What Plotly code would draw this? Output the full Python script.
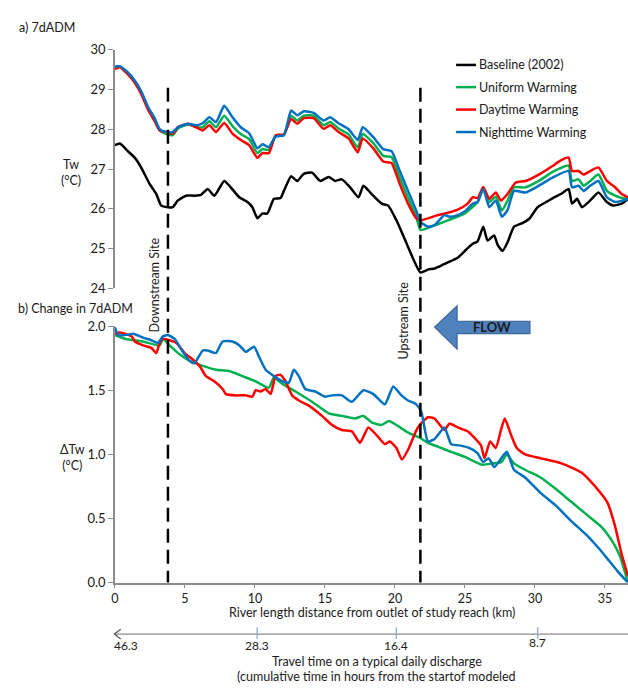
import plotly.graph_objects as go

# ---------------- data ----------------
# a) 7dADM (Tw, °C) vs river km
base_km = [0, 0.36, 0.95, 1.43, 1.89, 2.49, 2.96, 3.31, 3.79, 4.14, 4.50, 5.09, 5.68, 6.15, 6.63, 7.10,
           7.81, 8.28, 8.88, 9.47, 9.82, 10.18, 10.53, 10.89, 11.36, 11.83, 12.07, 12.59, 13.02, 13.49,
           14.08, 14.67, 15.27, 15.73, 16.21, 16.80, 17.40, 17.75, 18.34, 19.05, 19.52, 20.11, 20.82,
           21.82, 22.36, 22.83, 23.30, 23.78, 24.49, 25.08, 25.56, 25.91, 26.31, 26.62, 27.09, 27.33,
           27.69, 28.04, 28.51, 29.10, 29.60, 30.20, 31.20, 31.94, 32.41, 32.65, 33.01, 33.36, 33.95,
           34.54, 35.14, 35.60, 36.20, 36.65]
base_tw = [27.60, 27.64, 27.44, 27.28, 27.03, 26.62, 26.37, 26.08, 26.04, 26.04, 26.21, 26.33, 26.33,
           26.35, 26.50, 26.33, 26.70, 26.54, 26.29, 26.17, 26.04, 25.76, 25.88, 25.88, 26.25, 26.27,
           26.45, 26.82, 26.70, 26.88, 26.91, 26.70, 26.80, 26.70, 26.74, 26.54, 26.29, 26.58, 26.37,
           26.13, 26.08, 25.71, 25.14, 24.40, 24.47, 24.50, 24.57, 24.65, 24.77, 24.97, 25.12, 25.18,
           25.55, 25.20, 25.33, 25.10, 24.94, 25.15, 25.55, 25.64, 25.75, 26.04, 26.25, 26.39, 26.50,
           26.13, 26.25, 26.04, 26.21, 26.41, 26.17, 26.08, 26.13, 26.25]

day_km = [0, 0.36, 0.95, 1.43, 1.89, 2.37, 2.85, 3.20, 3.67, 4.14, 4.50, 5.21, 5.80, 6.27, 6.75, 7.22,
          7.81, 8.40, 8.99, 9.59, 10.18, 10.53, 11.00, 11.48, 12.07, 12.59, 13.02, 13.49, 14.20, 14.91,
          15.38, 15.98, 16.69, 17.35, 17.70, 18.46, 19.17, 19.76, 20.35, 20.94, 21.53, 21.82, 22.36,
          23.07, 23.78, 24.49, 25.20, 25.56, 25.91, 26.31, 26.74, 27.21, 27.57, 28.04, 28.63, 29.34,
          30.28, 31.23, 31.82, 32.41, 32.65, 33.12, 33.48, 33.95, 34.54, 35.14, 35.73, 36.20, 36.65]
day_tw = [29.51, 29.56, 29.37, 29.16, 28.88, 28.49, 28.20, 27.97, 27.93, 27.89, 28.05, 28.14, 28.05,
          27.97, 28.10, 27.93, 28.16, 27.89, 27.73, 27.60, 27.28, 27.40, 27.40, 27.85, 27.87, 28.26,
          28.14, 28.28, 28.28, 28.01, 28.10, 27.93, 27.77, 27.42, 27.77, 27.52, 27.19, 27.15, 26.62,
          26.13, 25.76, 25.71, 25.76, 25.84, 25.90, 25.98, 26.13, 26.29, 26.27, 26.55, 26.25, 26.41,
          26.21, 26.37, 26.66, 26.70, 26.86, 27.07, 27.21, 27.29, 26.95, 26.95, 26.86, 26.95, 27.04,
          26.70, 26.54, 26.37, 26.29]

uni_km = [0, 0.36, 0.95, 1.43, 1.89, 2.37, 2.85, 3.20, 3.67, 4.14, 4.50, 5.21, 5.80, 6.27, 6.75, 7.22,
          7.81, 8.40, 8.99, 9.59, 10.18, 10.53, 11.00, 11.48, 12.07, 12.59, 13.02, 13.49, 14.20, 14.91,
          15.38, 15.98, 16.69, 17.35, 17.70, 18.46, 19.17, 19.76, 20.35, 20.94, 21.53, 21.82, 22.60,
          23.78, 24.96, 25.56, 25.91, 26.31, 26.74, 27.21, 27.64, 28.04, 28.51, 29.34, 30.28, 31.23,
          31.82, 32.41, 32.65, 33.12, 33.48, 33.95, 34.54, 35.14, 35.73, 36.20, 36.65]
uni_tw = [29.55, 29.58, 29.40, 29.19, 28.92, 28.53, 28.24, 27.97, 27.88, 27.85, 28.02, 28.12, 28.06,
          28.05, 28.20, 28.05, 28.34, 28.08, 27.88, 27.75, 27.40, 27.50, 27.48, 27.82, 27.85, 28.34,
          28.22, 28.34, 28.34, 28.10, 28.18, 28.02, 27.87, 27.54, 27.88, 27.65, 27.33, 27.30, 26.78,
          26.28, 25.80, 25.47, 25.55, 25.71, 25.88, 26.05, 26.17, 26.50, 26.17, 26.30, 25.96, 26.20,
          26.54, 26.54, 26.70, 26.92, 27.02, 27.09, 26.70, 26.74, 26.58, 26.70, 26.86, 26.45, 26.33,
          26.27, 26.25]

night_km = [0, 0.36, 0.95, 1.43, 1.89, 2.37, 2.85, 3.20, 3.67, 4.14, 4.50, 5.21, 5.80, 6.27, 6.75, 7.22,
            7.81, 8.40, 8.99, 9.59, 10.18, 10.53, 11.00, 11.48, 12.07, 12.59, 13.02, 13.49, 14.20, 14.91,
            15.38, 15.98, 16.69, 17.35, 17.70, 18.46, 19.17, 19.76, 20.35, 20.94, 21.53, 21.82, 22.36,
            22.83, 23.54, 23.90, 24.49, 25.08, 25.56, 25.91, 26.31, 26.74, 27.21, 27.64, 28.04, 28.51,
            29.34, 30.28, 31.23, 32.41, 32.65, 33.12, 33.48, 33.95, 34.54, 35.14, 35.73, 36.20, 36.65]
night_tw = [29.58, 29.58, 29.42, 29.22, 28.95, 28.56, 28.27, 28.00, 27.93, 27.93, 28.05, 28.14, 28.10,
            28.15, 28.30, 28.18, 28.59, 28.30, 28.05, 27.90, 27.52, 27.62, 27.55, 27.82, 27.85, 28.47,
            28.35, 28.45, 28.41, 28.22, 28.30, 28.15, 28.00, 27.73, 28.05, 27.80, 27.50, 27.45, 26.95,
            26.45, 25.95, 25.67, 25.55, 25.59, 25.84, 25.80, 25.84, 25.96, 26.13, 26.17, 26.50, 26.04,
            26.21, 25.80, 25.96, 26.45, 26.41, 26.58, 26.78, 26.95, 26.54, 26.58, 26.45, 26.58, 26.70,
            26.29, 26.17, 26.20, 26.25]

# b) Change in 7dADM (ΔTw, °C)
d_night_km = [0, 0.24, 0.75, 1.30, 2.01, 2.60, 3.08, 3.43, 3.79, 4.27, 4.85, 5.33, 5.68, 6.27, 6.63, 7.22,
              7.69, 8.40, 8.88, 9.35, 9.94, 10.30, 10.77, 11.36, 11.95, 12.43, 12.78, 13.14, 13.60, 14.31,
              15.02, 15.50, 16.21, 16.92, 17.75, 18.46, 19.28, 19.88, 20.47, 20.94, 21.53, 21.89, 22.36,
              22.83, 23.54, 24.02, 24.61, 25.30, 25.90, 26.30, 26.70, 27.10, 27.60, 28.00, 28.50, 29.30,
              30.40, 31.50, 32.60, 33.70, 34.70, 35.30, 35.90, 36.65]
d_night = [1.99, 1.93, 1.93, 1.94, 1.91, 1.89, 1.87, 1.92, 1.93, 1.90, 1.80, 1.73, 1.71, 1.81, 1.81, 1.79,
           1.88, 1.88, 1.85, 1.80, 1.84, 1.76, 1.66, 1.61, 1.57, 1.56, 1.66, 1.61, 1.51, 1.49, 1.45, 1.46,
           1.46, 1.41, 1.50, 1.47, 1.39, 1.53, 1.46, 1.42, 1.39, 1.33, 1.10, 1.12, 1.21, 1.08, 1.07, 1.05,
           1.01, 0.94, 0.97, 0.90, 0.97, 1.02, 0.88, 0.82, 0.70, 0.60, 0.48, 0.37, 0.25, 0.17, 0.09, 0.00]

d_uni_km = [0, 0.75, 2.01, 3.20, 3.43, 3.91, 4.62, 5.33, 6.27, 7.22, 8.17, 9.11, 10.06, 11.00, 11.36,
            11.95, 12.90, 14.08, 15.27, 16.21, 17.16, 17.75, 18.34, 19.05, 19.57, 20.23, 20.94, 21.78,
            22.36, 23.07, 24.00, 25.00, 26.20, 27.00, 27.60, 28.00, 28.50, 29.30, 30.40, 31.50, 32.60,
            33.70, 34.70, 35.30, 35.70, 36.10, 36.65]
d_uni = [1.93, 1.90, 1.88, 1.85, 1.90, 1.85, 1.78, 1.73, 1.69, 1.66, 1.65, 1.61, 1.57, 1.52, 1.60, 1.55,
         1.49, 1.41, 1.32, 1.30, 1.28, 1.30, 1.25, 1.23, 1.26, 1.22, 1.17, 1.13, 1.09, 1.06, 1.02, 0.98,
         0.92, 0.93, 0.94, 1.00, 0.93, 0.88, 0.82, 0.73, 0.63, 0.53, 0.44, 0.36, 0.29, 0.20, 0.00]

d_day_km = [0, 0.36, 1.20, 1.43, 2.01, 2.60, 2.96, 3.20, 3.43, 3.91, 4.38, 4.98, 5.56, 6.04, 6.51, 7.10,
            7.69, 7.93, 8.64, 9.35, 9.82, 10.06, 10.40, 10.77, 11.12, 11.48, 11.83, 12.19, 12.66, 13.14,
            13.85, 14.79, 15.50, 16.21, 16.92, 17.51, 18.10, 18.69, 19.28, 19.64, 20.11, 20.50, 21.00,
            21.50, 21.78, 22.36, 22.83, 23.54, 23.90, 24.49, 25.20, 25.67, 26.15, 26.40, 26.80, 27.20,
            27.60, 27.85, 28.30, 28.70, 29.30, 30.40, 31.90, 33.30, 34.30, 35.20, 35.70, 36.20, 36.65]
d_day = [1.94, 1.95, 1.92, 1.88, 1.85, 1.83, 1.79, 1.87, 1.90, 1.89, 1.87, 1.79, 1.74, 1.69, 1.61, 1.57,
         1.51, 1.47, 1.46, 1.46, 1.45, 1.50, 1.49, 1.51, 1.47, 1.61, 1.62, 1.57, 1.46, 1.42, 1.38, 1.30,
         1.23, 1.19, 1.18, 1.09, 1.21, 1.15, 1.08, 1.10, 1.05, 0.96, 1.05, 1.18, 1.23, 1.29, 1.28, 1.19,
         1.24, 1.21, 1.18, 1.13, 1.07, 0.97, 1.10, 1.05, 1.20, 1.28, 1.15, 1.05, 1.00, 0.97, 0.93, 0.86,
         0.75, 0.62, 0.45, 0.22, 0.05]

site_km = [3.79, 21.82]
site_names = ["Downstream Site", "Upstream Site"]
x_ticks = [0, 5, 10, 15, 20, 25, 30, 35]
tw_ticks = [24, 25, 26, 27, 28, 29, 30]
dtw_ticks = [0.0, 0.5, 1.0, 1.5, 2.0]
travel_km = [0.0, 10.16, 20.10, 30.20]
travel_labels = ["46.3", "28.3", "16.4", "8.7"]
series_names = ["Baseline (2002)", "Uniform Warming", "Daytime Warming", "Nighttime Warming"]
series_colors = ["#000000", "#00b050", "#ff0000", "#0070c0"]

# ---------------- figure ----------------
W, H = 628, 688
FONT = "Lato"
TXT = "#1a1a1a"
AX = "#8c8c8c"
XMAX = 36.65


def xp(px):
    return px / W


def yp(py):
    return 1 - py / H


fig = go.Figure()

top = [(base_km, base_tw), (uni_km, uni_tw), (day_km, day_tw), (night_km, night_tw)]
for (xs, ys), name, col in zip(top, series_names, series_colors):
    fig.add_trace(go.Scatter(x=xs, y=ys, mode="lines", name=name, xaxis="x2", yaxis="y2",
                             line=dict(color=col, width=2.5, shape="spline", smoothing=0.5),
                             showlegend=False, hoverinfo="skip"))

bottom = [(d_uni_km, d_uni), (d_day_km, d_day), (d_night_km, d_night)]
for (xs, ys), name, col in zip(bottom, series_names[1:], series_colors[1:]):
    fig.add_trace(go.Scatter(x=xs, y=ys, mode="lines", name=name, xaxis="x", yaxis="y",
                             line=dict(color=col, width=2.5, shape="spline", smoothing=0.5),
                             showlegend=False, hoverinfo="skip"))

axis_common = dict(showgrid=False, zeroline=False, showline=True, linecolor=AX, linewidth=1.5,
                   ticks="outside", ticklen=5, tickcolor=AX, tickwidth=1.2,
                   tickfont=dict(family=FONT, size=13, color=TXT))

xdom = [xp(111.6), 1.0]
x_common = dict(axis_common)
x_common.update(ticklen=4, tickfont=dict(family=FONT, size=12.5, color=TXT))
fig.update_layout(
    width=W, height=H, margin=dict(l=0, r=0, t=0, b=0),
    plot_bgcolor="white", paper_bgcolor="white",
    xaxis=dict(domain=xdom, range=[0, XMAX], anchor="y", tickvals=x_ticks, **x_common),
    yaxis=dict(domain=[yp(588.3), yp(325.7)], range=[0, 2], anchor="x", tickvals=dtw_ticks,
               tickformat=".1f", **axis_common),
    xaxis2=dict(domain=xdom, range=[0, XMAX], anchor="y2", visible=False),
    yaxis2=dict(domain=[yp(287), yp(42.7)], range=[24, 30], anchor="x2", tickvals=tw_ticks,
                **axis_common),
    showlegend=False,
)

shapes = []
ann = []

# site dashed lines + labels
label_y = [284, 320]
label_x = [151, 402.5]
for km, name, ly, lx in zip(site_km, site_names, label_y, label_x):
    shapes.append(dict(type="line", xref="x", yref="paper", x0=km, x1=km, y0=yp(81.7), y1=yp(588.3),
                       line=dict(color="black", width=2.5, dash="14px,7px"), layer="above"))
    ann.append(dict(text=name, xref="paper", yref="paper", x=xp(lx), y=yp(ly), showarrow=False,
                    textangle=-90, font=dict(family=FONT, size=12.5, color=TXT),
                    xanchor="center", yanchor="middle"))

# legend (manual)
leg_y = [58.3, 81, 104, 127]
for name, col, ly in zip(series_names, series_colors, leg_y):
    shapes.append(dict(type="line", xref="paper", yref="paper", x0=xp(455), x1=xp(475),
                       y0=yp(ly), y1=yp(ly), line=dict(color=col, width=2.5)))
    ann.append(dict(text=name, xref="paper", yref="paper", x=xp(476), y=yp(ly), showarrow=False,
                    xanchor="left", yanchor="middle", font=dict(family=FONT, size=12.5, color=TXT)))

# FLOW arrow
pts = [(433.3, 326.7), (456, 305), (456, 320.7), (529.3, 320.7), (529.3, 333.3), (456, 333.3), (456, 349.3)]
path = "M " + " L ".join(f"{xp(a):.5f},{yp(b):.5f}" for a, b in pts) + " Z"
shapes.append(dict(type="path", xref="paper", yref="paper", path=path, fillcolor="#4f81bd",
                   line=dict(color="#3a6494", width=1.2)))
ann.append(dict(text="<b>FLOW</b>", xref="paper", yref="paper", x=xp(491), y=yp(327), showarrow=False,
                xanchor="center", yanchor="middle", font=dict(family=FONT, size=13, color="#1a1a1a")))

# panel titles and axis labels
ann += [
    dict(text="a) 7dADM", x=xp(13), y=yp(20), xanchor="left"),
    dict(text="Tw<br>(°C)", x=xp(67), y=yp(168), xanchor="center"),
    dict(text="b) Change in 7dADM", x=xp(12), y=yp(308), xanchor="left"),
    dict(text="ΔTw<br>(°C)", x=xp(69), y=yp(460), xanchor="center"),
    dict(text="River length distance from outlet of study reach (km)", x=xp(370), y=yp(619),
         xanchor="center"),
    dict(text="Travel time on a typical daily discharge", x=xp(375), y=yp(669.5), xanchor="center"),
    dict(text="(cumulative time in hours from the startof modeled", x=xp(375), y=yp(684),
         xanchor="center"),
]
for a in ann[-7:]:
    a.update(xref="paper", yref="paper", showarrow=False, yanchor="middle",
             font=dict(family=FONT, size=12.5, color=TXT))

# travel time axis
TY = 641
shapes.append(dict(type="line", xref="x", yref="paper", x0=0, x1=XMAX, y0=yp(TY), y1=yp(TY),
                   line=dict(color=AX, width=1.2)))
shapes.append(dict(type="path", xref="paper", yref="paper",
                   path=f"M {xp(117.5)},{yp(TY-5)} L {xp(111)},{yp(TY)} L {xp(117.5)},{yp(TY+5)}",
                   line=dict(color="#555555", width=1.2)))
for i, (km, lab) in enumerate(zip(travel_km, travel_labels)):
    if i > 0:
        shapes.append(dict(type="line", xref="x", yref="paper", x0=km, x1=km, y0=yp(TY - 7),
                           y1=yp(TY + 5), line=dict(color="#7fa6d6", width=1.2)))
    ann.append(dict(text=lab, xref="x", yref="paper", x=km, y=yp(652.5 if i < 3 else 649.5),
                    showarrow=False, xanchor="left" if i == 0 else "center", yanchor="middle",
                    xshift=-3 if i == 0 else 0,
                    font=dict(family=FONT, size=12, color=TXT)))

fig.update_layout(shapes=shapes, annotations=ann)
fig.write_html("out.html")
